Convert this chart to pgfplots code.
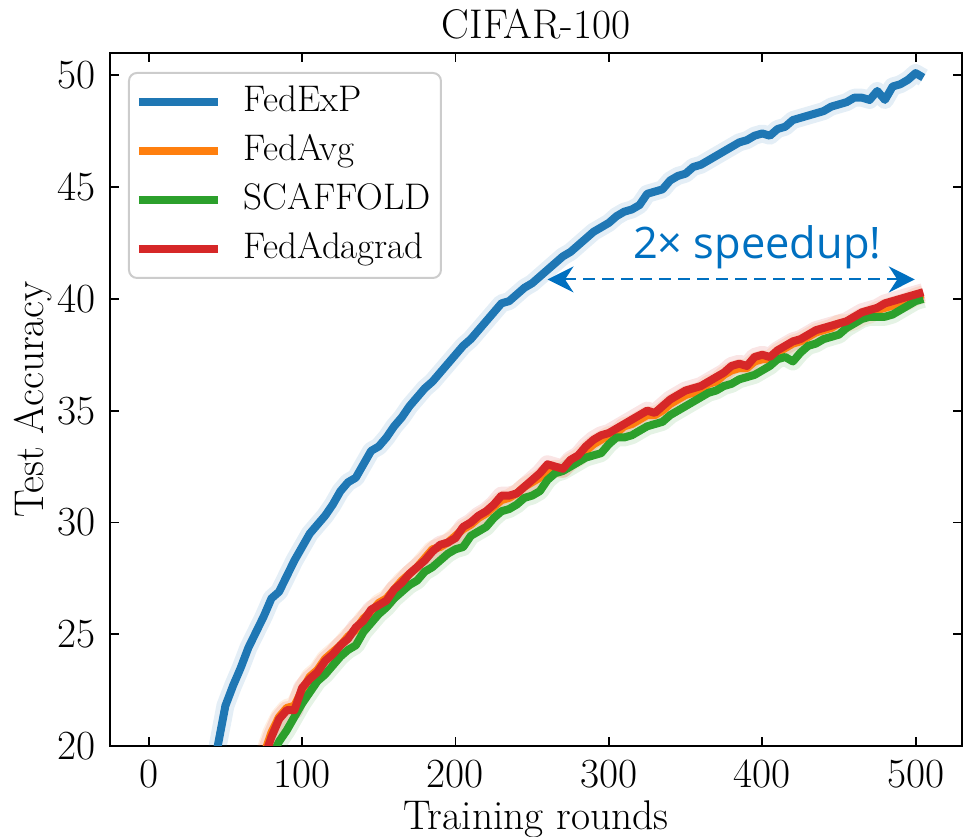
\documentclass[border=0pt]{standalone}
\usepackage{fontspec}
\newfontfamily\annfont{Open Sans}
\usepackage{pgfplots}
\usepackage{pgfplotstable}
\pgfplotsset{compat=1.18}
\usetikzlibrary{calc,arrows.meta}
\definecolor{c0}{HTML}{1F77B4}
\definecolor{c1}{HTML}{FF7F0E}
\definecolor{c2}{HTML}{2CA02C}
\definecolor{c3}{HTML}{D62728}
\definecolor{annblue}{HTML}{0070C0}

% round, test accuracy
\pgfplotstableread{
x y
0 1.0
10 5.0
20 9.0
30 13.0
40 17.8
45 20.0
50 21.8
55 22.7
60 23.5
65 24.4
70 25.1
75 25.8
80 26.6
85 26.9
90 27.6
95 28.3
100 28.9
105 29.5
110 29.9
115 30.3
120 30.8
125 31.4
130 31.8
135 32.0
140 32.6
145 33.2
150 33.4
155 33.8
160 34.3
165 34.7
170 35.2
175 35.6
180 36.0
185 36.3
190 36.7
195 37.1
200 37.5
205 37.9
210 38.2
215 38.6
220 39.0
225 39.4
230 39.8
235 39.9
240 40.2
245 40.5
250 40.7
255 41.0
260 41.3
265 41.6
270 41.9
275 42.1
280 42.4
285 42.7
290 43.0
295 43.2
300 43.4
305 43.7
310 43.9
315 44.0
320 44.2
325 44.7
330 44.8
335 44.9
340 45.3
345 45.5
350 45.6
355 45.9
360 46.0
365 46.2
370 46.4
375 46.6
380 46.8
385 47.0
390 47.1
395 47.3
400 47.4
405 47.3
410 47.6
415 47.7
420 48.0
425 48.1
430 48.2
435 48.3
440 48.4
445 48.6
450 48.7
455 48.8
460 49.0
465 49.0
470 48.9
475 49.3
480 48.9
485 49.5
490 49.6
495 49.8
500 50.1
505 49.9
}\fedexp

\pgfplotstableread{
x y
70 18.5
75 19.6
80 20.6
85 21.3
90 21.7
95 21.8
100 22.5
105 23.1
110 23.4
115 23.9
120 24.2
125 24.5
130 24.9
135 25.2
140 25.7
145 26.0
150 26.4
155 26.6
160 27.0
165 27.4
170 27.7
175 28.0
180 28.4
185 28.8
190 28.9
195 29.1
200 29.4
205 29.7
210 29.9
215 30.2
220 30.4
225 30.7
230 31.0
235 31.1
240 31.3
245 31.6
250 31.8
255 32.0
260 32.3
265 32.4
270 32.4
275 32.7
280 32.9
285 33.2
290 33.5
295 33.7
300 33.9
305 34.0
310 34.3
315 34.4
320 34.6
325 34.8
330 34.8
335 35.0
340 35.3
345 35.5
350 35.7
355 35.8
360 35.9
365 36.2
370 36.3
375 36.6
380 36.8
385 36.9
390 36.9
395 37.2
400 37.3
405 37.3
410 37.6
415 37.8
420 38.0
425 38.1
430 38.3
435 38.5
440 38.6
445 38.7
450 38.9
455 38.9
460 39.0
465 39.2
470 39.3
475 39.5
480 39.6
485 39.7
490 39.8
495 39.9
500 40.1
505 40.2
}\fedavg

\pgfplotstableread{
x y
70 17.5
75 18.4
80 19.5
85 20.2
90 20.7
95 21.3
100 21.9
105 22.4
110 22.9
115 23.2
120 23.6
125 24.0
130 24.3
135 24.5
140 25.1
145 25.5
150 25.9
155 26.2
160 26.6
165 26.9
170 27.2
175 27.4
180 27.8
185 28.0
190 28.3
195 28.6
200 28.8
205 28.9
210 29.4
215 29.6
220 29.8
225 30.2
230 30.5
235 30.6
240 30.8
245 31.1
250 31.2
255 31.4
260 31.9
265 32.2
270 32.3
275 32.5
280 32.7
285 32.9
290 33.0
295 33.1
300 33.5
305 33.8
310 33.8
315 33.9
320 34.1
325 34.3
330 34.4
335 34.5
340 34.8
345 35.0
350 35.2
355 35.4
360 35.6
365 35.8
370 35.9
375 36.1
380 36.2
385 36.4
390 36.5
395 36.6
400 36.8
405 37.0
410 37.3
415 37.4
420 37.2
425 37.6
430 37.9
435 38.0
440 38.2
445 38.3
450 38.4
455 38.7
460 38.9
465 39.1
470 39.2
475 39.2
480 39.2
485 39.3
490 39.5
495 39.7
500 39.9
505 40.0
}\scaffold

\pgfplotstableread{
x y
70 18.3
75 19.4
80 20.4
85 21.2
90 21.6
95 21.6
100 22.6
105 23.0
110 23.3
115 23.8
120 24.1
125 24.5
130 24.8
135 25.3
140 25.6
145 26.1
150 26.3
155 26.5
160 27.0
165 27.3
170 27.7
175 28.0
180 28.3
185 28.7
190 29.0
195 29.1
200 29.3
205 29.8
210 30.0
215 30.3
220 30.5
225 30.8
230 31.2
235 31.2
240 31.3
245 31.6
250 31.9
255 32.2
260 32.6
265 32.5
270 32.4
275 32.8
280 33.0
285 33.4
290 33.7
295 33.9
300 34.0
305 34.2
310 34.4
315 34.6
320 34.8
325 35.0
330 34.9
335 35.2
340 35.5
345 35.7
350 35.9
355 36.0
360 36.1
365 36.3
370 36.5
375 36.7
380 37.0
385 37.1
390 37.0
395 37.4
400 37.5
405 37.4
410 37.7
415 37.9
420 38.1
425 38.2
430 38.4
435 38.6
440 38.7
445 38.8
450 38.9
455 39.0
460 39.2
465 39.4
470 39.5
475 39.6
480 39.8
485 39.9
490 40.0
495 40.1
500 40.2
505 40.3
}\fedadagrad

\begin{document}
\fontsize{20.74}{24}\selectfont
\begin{tikzpicture}
\begin{axis}[
  scale only axis, width=426pt, height=346.5pt,
  xmin=-25.25, xmax=530.25, ymin=20, ymax=51,
  xtick={0,100,...,500}, ytick={20,25,...,50},
  tick align=inside, xtick pos=both, ytick pos=both,
  major tick length=4.5pt,
  every tick/.style={black, line width=0.9pt},
  axis line style={line width=0.9pt},
  /pgf/number format/assume math mode=true,
  title={CIFAR-100}, xlabel={Training rounds}, ylabel={Test Accuracy},
  every axis title/.style={at={(axis description cs:0.5,1.0216)}, anchor=base},
  every axis x label/.style={at={(axis description cs:0.5,-0.1212)}, anchor=base},
  every axis y label/.style={at={(axis description cs:-0.0786,0.5)}, rotate=90, anchor=base},
  legend cell align=left,
  legend style={at={(0.0211,0.9726)}, anchor=north west,
    font=\fontsize{18.5}{22}\selectfont,
    draw=black!20, line width=1pt, rounded corners=4pt, fill=white,
    inner xsep=3pt, inner ysep=3pt, column sep=9pt, row sep=1.5pt,
    nodes={inner sep=2pt, text height=14.5pt, text depth=4.5pt}},
  legend image code/.code={\draw[#1, line width=4pt] (0pt,0pt) -- (39.5pt,0pt);},
  every axis plot/.append style={line join=round},
]
\path (rel axis cs:0,0) coordinate (fsw) (rel axis cs:1,1) coordinate (fne);
% light bands
\addplot[forget plot, c0, opacity=0.12, line width=9pt] table {\fedexp};
\addplot[forget plot, c1, opacity=0.12, line width=9pt] table {\fedavg};
\addplot[forget plot, c2, opacity=0.12, line width=9pt] table {\scaffold};
\addplot[forget plot, c3, opacity=0.12, line width=9pt] table {\fedadagrad};
% mean curves
\addplot[c0, line width=4pt] table {\fedexp};
\addlegendentry{FedExP}
\addplot[c1, line width=4pt] table {\fedavg};
\addlegendentry{FedAvg}
\addplot[c2, line width=4pt] table {\scaffold};
\addlegendentry{SCAFFOLD}
\addplot[c3, line width=4pt] table {\fedadagrad};
\addlegendentry{FedAdagrad}
% annotation
\draw[annblue, line width=1pt, dash pattern=on 6pt off 3.5pt,
  {Stealth[length=13pt,width=13pt]}-{Stealth[length=13pt,width=13pt]}]
  (axis cs:260,40.87) -- (axis cs:499.5,40.87);
\node[annblue, anchor=base west, inner sep=0pt, font=\annfont\fontsize{21.7}{24}\selectfont]
  at (axis cs:315.5,41.8) {2× speedup!};
\end{axis}
\pgfresetboundingbox
\path ($(fsw)+(-55pt,-45.5pt)$) rectangle ($(fne)+(1pt,26.5pt)$);
\end{tikzpicture}
\end{document}
